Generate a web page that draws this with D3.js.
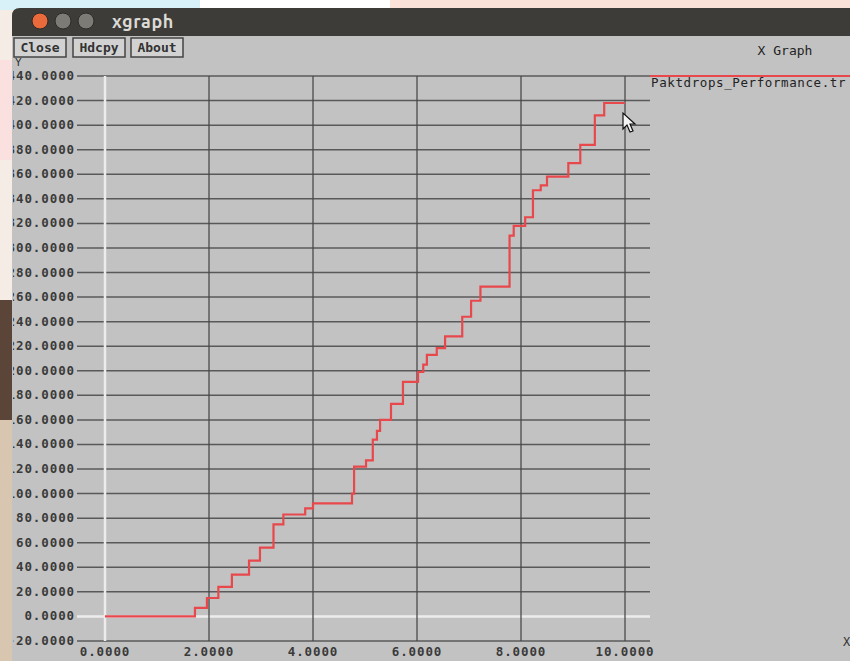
<!DOCTYPE html>
<html>
<head>
<meta charset="utf-8">
<script src="https://cdn.jsdelivr.net/npm/d3@7"></script>
<style>
body { margin: 0; background: #fff; }
svg text { font-family: "DejaVu Sans Mono", "Liberation Mono", monospace; }
</style>
</head>
<body>
<script>
// packet drops over time
var timeVals = [0, 1.73, 1.96, 2.18, 2.44, 2.77, 2.98, 3.24, 3.43, 3.85, 4.0, 4.75, 4.79,
  5.02, 5.15, 5.23, 5.29, 5.5, 5.73, 6.02, 6.12, 6.19, 6.38, 6.54, 6.87, 7.04, 7.22,
  7.78, 7.86, 8.08, 8.23, 8.38, 8.5, 8.91, 9.14, 9.42, 9.6, 10.0];
var dropVals = [0, 7, 15, 24, 34, 45.5, 56, 75, 83, 88, 92, 100, 122,
  127, 144, 151, 160, 173, 191, 199, 205, 213, 218.5, 228, 244, 257, 268.5,
  310, 318, 325, 347, 351, 358, 369, 384, 408, 418, 418];
var yTicks = d3.range(-20, 441, 20);
var xTicks = [0, 2, 4, 6, 8, 10];
var seriesName = "Paktdrops_Performance.tr";

var W = 850, H = 661;
var plot = {left: 77, right: 650, top: 76, bottom: 641};

var svg = d3.select("body").append("svg")
  .attr("width", W)
  .attr("height", H);

// backdrop of the page behind the window
svg.append("rect").attr("width", W).attr("height", H).attr("fill", "#f6ece6");
svg.append("rect").attr("x", 0).attr("y", 0).attr("width", 200).attr("height", 10).attr("fill", "#d8f1f8");
svg.append("rect").attr("x", 200).attr("y", 0).attr("width", 190).attr("height", 10).attr("fill", "#ffffff");
svg.append("rect").attr("x", 390).attr("y", 0).attr("width", 460).attr("height", 10).attr("fill", "#fbe2d8");
svg.append("rect").attr("x", 0).attr("y", 60).attr("width", 12).attr("height", 100).attr("fill", "#fbe0e0");
svg.append("rect").attr("x", 0).attr("y", 300).attr("width", 12).attr("height", 120).attr("fill", "#5a4538");
svg.append("rect").attr("x", 0).attr("y", 420).attr("width", 12).attr("height", 241).attr("fill", "#d8c6b0");

// window frame
svg.append("path")
  .attr("d", "M12,36 L12,16 Q12,8 20,8 L850,8 L850,36 Z")
  .attr("fill", "#3d3c38");
svg.append("rect").attr("x", 12).attr("y", 36).attr("width", W - 12).attr("height", H - 36).attr("fill", "#c2c2c2");

var dots = [{x: 40, c: "#ea6a3c"}, {x: 63, c: "#7c7b76"}, {x: 86, c: "#7c7b76"}];
svg.selectAll(".dot").data(dots).enter().append("circle")
  .attr("cx", function(d) { return d.x; })
  .attr("cy", 21)
  .attr("r", 8)
  .attr("fill", function(d) { return d.c; })
  .attr("stroke", "#2c2b28");
svg.append("text").attr("x", 112).attr("y", 28)
  .style("font-family", "Ubuntu, 'DejaVu Sans', sans-serif")
  .style("font-weight", "bold").style("font-size", "18px")
  .style("letter-spacing", "0.6px")
  .attr("fill", "#dcdad5").text("xgraph");

var buttons = [{label: "Close", x: 14}, {label: "Hdcpy", x: 73}, {label: "About", x: 131}];
var btn = svg.selectAll(".btn").data(buttons).enter().append("g")
  .attr("transform", function(d) { return "translate(" + d.x + ",38)"; });
btn.append("rect").attr("width", 52).attr("height", 19)
  .attr("fill", "#d2d2d2").attr("stroke", "#444").attr("stroke-width", 1.5);
btn.append("text").attr("x", 26).attr("y", 14).attr("text-anchor", "middle")
  .style("font-size", "13px").style("font-weight", "bold")
  .attr("fill", "#333").text(function(d) { return d.label; });

svg.append("text").attr("x", 785).attr("y", 55).attr("text-anchor", "middle")
  .style("font-size", "13px").attr("fill", "#222").text("X Graph");

// scales
var x = d3.scaleLinear()
  .domain([0, 10])
  .range([105, 625]);
var y = d3.scaleLinear()
  .domain([-20, 440])
  .range([plot.bottom, plot.top]);

svg.append("clipPath").attr("id", "win")
  .append("rect").attr("x", 13).attr("y", 36).attr("width", W - 13).attr("height", H - 36);

var g = svg.append("g").attr("clip-path", "url(#win)");

// horizontal grid
g.selectAll(".hgrid").data(yTicks).enter().append("line")
  .attr("x1", plot.left).attr("x2", plot.right)
  .attr("y1", function(d) { return y(d); })
  .attr("y2", function(d) { return y(d); })
  .attr("stroke", function(d) { return d === 0 ? "#ececec" : "#474747"; })
  .attr("stroke-width", function(d) { return d === 0 ? 2.5 : 1.5; })
  .attr("stroke-opacity", function(d) { return d === 0 ? 1 : 0.85; });

// vertical grid
g.selectAll(".vgrid").data(xTicks).enter().append("line")
  .attr("y1", plot.top).attr("y2", plot.bottom)
  .attr("x1", function(d) { return x(d); })
  .attr("x2", function(d) { return x(d); })
  .attr("stroke", function(d) { return d === 0 ? "#ececec" : "#474747"; })
  .attr("stroke-width", function(d) { return d === 0 ? 2.5 : 1.5; })
  .attr("stroke-opacity", function(d) { return d === 0 ? 1 : 0.85; });

// tick labels
g.selectAll(".ylab").data(yTicks).enter().append("text")
  .attr("x", 75)
  .attr("y", function(d) { return y(d) + 4; })
  .attr("text-anchor", "end")
  .style("font-size", "12.5px").style("font-weight", "bold").style("letter-spacing", "0.9px")
  .attr("fill", "#3a3a3a")
  .text(function(d) { return d3.format(".4f")(d).replace("−", "-"); });

g.selectAll(".xlab").data(xTicks).enter().append("text")
  .attr("x", function(d) { return x(d); })
  .attr("y", 656)
  .attr("text-anchor", "middle")
  .style("font-size", "12.5px").style("font-weight", "bold").style("letter-spacing", "0.9px")
  .attr("fill", "#3a3a3a")
  .text(function(d) { return d3.format(".4f")(d); });

// axis unit labels
g.append("text").attr("x", 15).attr("y", 66).style("font-size", "11px").attr("fill", "#333").text("Y");
g.append("text").attr("x", 843).attr("y", 646).style("font-size", "12px").attr("fill", "#333").text("X");

// the series
var pts = timeVals.map(function(t, i) { return [t, dropVals[i]]; });
var line = d3.line()
  .x(function(d) { return x(d[0]); })
  .y(function(d) { return y(d[1]); })
  .curve(d3.curveStepAfter);

g.append("path")
  .datum(pts)
  .attr("fill", "none")
  .attr("stroke", "#e8484c")
  .attr("stroke-width", 2.2)
  .attr("d", line);

// legend
g.append("line").attr("x1", plot.right).attr("x2", W)
  .attr("y1", 76).attr("y2", 76)
  .attr("stroke", "#e8484c").attr("stroke-width", 2);
g.append("text").attr("x", 651).attr("y", 87)
  .style("font-size", "12.5px").style("letter-spacing", "0.6px")
  .attr("fill", "#222").text(seriesName);

// mouse pointer left in the screenshot
g.append("path")
  .attr("transform", "translate(623,113)")
  .attr("d", "M0,0 L0,16 L4,12 L7,19 L10,18 L7,11 L12,11 Z")
  .attr("fill", "#f4f4f4").attr("stroke", "#111").attr("stroke-width", 1.2);
</script>
</body>
</html>
